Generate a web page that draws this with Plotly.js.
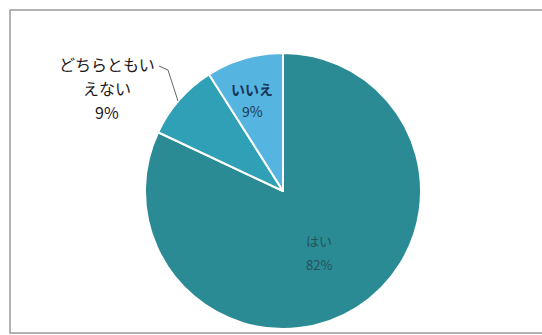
<!DOCTYPE html>
<html>
<head>
<meta charset="utf-8">
<script src="https://cdn.plot.ly/plotly-3.0.1.min.js"></script>
<style>html,body{margin:0;padding:0;background:#fff;}#chart{width:542px;height:335px;}</style>
</head>
<body>
<div id="chart"></div>
<script>
const categories = ["はい", "どちらともいえない", "いいえ"];
const values = [82, 9, 9];
const colors = ["#2A8B94", "#2FA0B5", "#55B5E0"];
const labelLines = [["はい", "82%"], ["どちらともい", "えない", "9%"], ["いいえ", "9%"]];

const W = 542, H = 335;
const px = x => x / W;
const py = y => 1 - y / H;

const trace = {
  type: "pie",
  labels: categories,
  values: values,
  sort: false,
  direction: "clockwise",
  rotation: 0,
  marker: { colors: colors, line: { color: "#ffffff", width: 2 } },
  textinfo: "none",
  hoverinfo: "none",
  domain: { x: [px(145), px(421)], y: [py(329), py(53)] },
  showlegend: false
};

// label anchor positions (label placement, not mark coordinates)
const labelPos = [
  { x: 319, y: 240, dy: 24, size: 13, color: "#24525A", weight: "normal" },
  { x: 107, y: 64, dy: 24, size: 16, color: "#1a1a1a", weight: "normal" },
  { x: 252, y: 89, dy: 22, size: 14, color: "#1B3656", weight: "bold" }
];

const annotations = [];
labelLines.forEach((lines, k) => {
  const p = labelPos[k];
  lines.forEach((t, i) => {
    annotations.push({
      xref: "paper", yref: "paper",
      x: px(p.x), y: py(p.y + i * p.dy),
      text: t, showarrow: false,
      font: { family: "Noto Sans CJK JP", size: p.size, color: p.color, weight: (k === 2 && i === 1) ? "normal" : p.weight },
      xanchor: "center", yanchor: "middle"
    });
  });
});

const layout = {
  width: W, height: H,
  margin: { l: 0, r: 0, t: 0, b: 0 },
  paper_bgcolor: "#ffffff",
  showlegend: false,
  annotations: annotations,
  shapes: [
    { type: "rect", xref: "paper", yref: "paper", x0: px(10), x1: px(560), y0: py(333), y1: py(10),
      line: { color: "#9a9a9a", width: 1.5 } },
    { type: "path", xref: "paper", yref: "paper",
      path: `M ${px(159)},${py(66)} L ${px(168)},${py(70)} L ${px(178)},${py(101)}`,
      line: { color: "#666666", width: 1 } }
  ]
};

Plotly.newPlot("chart", [trace], layout, { staticPlot: true });
</script>
</body>
</html>
